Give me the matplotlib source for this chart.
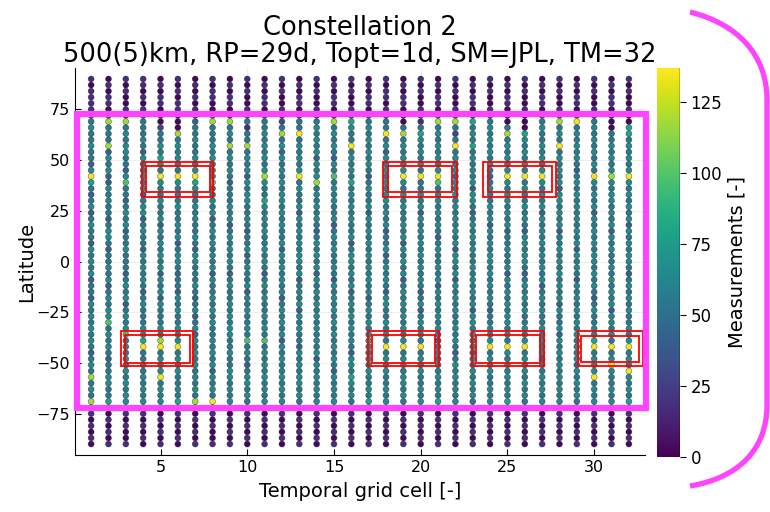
import numpy as np
import matplotlib
matplotlib.use("Agg")
import matplotlib.pyplot as plt
from matplotlib.patches import Rectangle, PathPatch
from matplotlib.path import Path

# ── Data ────────────────────────────────────────────────────────────────────
# binned measurement count for each digit code
LEVELS = [3, 18, 30, 42, 55, 66, 80, 98, 118, 135]
latitudes = np.arange(90, -91, -3)          # 61 rows, north to south
cells = np.arange(1, 33)                    # temporal grid cells
cell_codes = [
    "1011112454 4544359643 4534544354 5453443545 4545434548 4548210101 0",
    "0101102844 4835453354 5443455434 4545345455 7454543445 5446201010 1",
    "1010011845 4554435744 3454534454 4434545345 4574545454 5455210100 1",
    "1101012444 5435445453 4553454435 4545434544 4546944545 4545210101 0",
    "0101101024 4546549544 5445354545 4535453544 4548945459 4545201010 1",
    "1010110008 4545449544 4544545345 5434435454 4545945454 4546210101 0",
    "0101012344 5445459654 4545445435 5444543453 4535454545 4548201010 1",
    "1011002844 4545455744 5453454545 4535445454 5445454535 4549210100 1",
    "0101101845 4845454344 4545345454 5434544545 4554454455 4545201010 1",
    "1010012414 4845453545 5445434453 4544535454 4547454345 5454210101 0",
    "0101102445 4545458544 6545454454 5434545445 4547454545 4545201010 1",
    "1010011248 4535454545 5454544535 4545453454 5453545445 4545210101 0",
    "0101102449 4545459454 4535454545 5453454535 4544354545 5454201010 1",
    "1010012454 5453545845 4545434545 4535454545 4545453545 4545210101 0",
    "0101101845 4543547454 5445345454 4543545454 5454545435 4545201010 1",
    "1010012654 4945454645 4545445345 5454534545 4545435546 5454210101 0",
    "0101102454 5454543454 4535454545 4545453454 5456545454 4546201010 1",
    "1011012449 4535454545 5454534453 4545435544 5454945454 4545210101 0",
    "0101101048 4545459545 4544545354 5453454545 4545945545 5454201010 1",
    "1010012146 5454549445 4535454545 4545434534 5454945454 4545210101 0",
    "0101102845 4545459745 5454543454 4545354545 4543454545 4546201010 1",
    "1010012842 4945453545 4545454535 5453545454 4545434545 4545210101 0",
    "0101101645 4645454535 5434545454 4545454535 5454535454 5454201010 1",
    "1010012454 5454543454 4545354545 5454545434 4545945454 4545210101 0",
    "0101101048 4545459545 5454534454 4535454545 5454954545 4546201010 1",
    "1010010006 5454549454 4545435545 5434545454 4545945454 5454210101 0",
    "0101102454 4545459545 4535454545 4545345454 4545453545 4545201010 1",
    "1010012845 4945454535 5454534454 5454545354 4535454545 4545210101 0",
    "0101102945 4545434545 4545454535 4543545454 5454545354 5454201010 1",
    "1010012454 5454549545 4535454545 5454543454 4546945459 4545210101 0",
    "0101101004 4545458545 5454535454 4545454535 5454945954 4545201010 1",
    "1010010066 4545459545 4545354545 5434545454 4545945495 4546210101 0",
]
# highlighted regions: (cell_lo, cell_hi, lat_lo, lat_hi), outer and inner frame
boxes_outer = [(3.95, 8.05, 32.0, 49.2), (17.84, 22.1, 32.0, 49.2),
               (23.6, 27.8, 32.0, 49.2), (2.7, 6.9, -51.7, -34.3),
               (16.97, 21.08, -51.7, -34.3), (22.93, 27.1, -51.7, -34.3),
               (29.05, 32.83, -51.7, -34.3)]
boxes_inner = [(4.15, 7.85, 34.1, 47.0), (18.13, 21.83, 34.1, 47.0),
               (23.86, 27.56, 34.1, 47.0), (2.93, 6.69, -49.9, -36.1),
               (17.2, 20.85, -49.9, -36.1), (23.16, 26.87, -49.9, -36.1),
               (29.26, 32.6, -49.6, -36.6)]

counts = np.array([[LEVELS[int(ch)] for ch in code.replace(" ", "")]
                   for code in cell_codes])
X = np.repeat(cells, len(latitudes))
Y = np.tile(latitudes, len(cells))
C = counts.ravel()

# ── Figure ──────────────────────────────────────────────────────────────────
W, H = 770, 512
fig = plt.figure(figsize=(W / 100, H / 100), dpi=100)
ax = fig.add_axes([75 / W, 1 - 455 / H, 570 / W, 387 / H])
cax = fig.add_axes([657 / W, 1 - 457 / H, 23 / W, 389 / H])

sc = ax.scatter(X, Y, c=C, cmap="viridis", vmin=0, vmax=137, s=18,
                edgecolors=(0, 0, 0, 0.45), linewidths=0.5, zorder=3)

ax.set_xlim(0.07, 32.93)
ax.set_ylim(-95.4, 95.4)
ax.set_xticks([5, 10, 15, 20, 25, 30])
ax.set_yticks([-75, -50, -25, 0, 25, 50, 75])
ax.tick_params(direction="in", labelsize=11.5, length=4)
ax.grid(True, color="black", alpha=0.08, lw=0.6)
for side in ("top", "right"):
    ax.spines[side].set_visible(False)
ax.set_xlabel("Temporal grid cell [-]", fontsize=14, labelpad=5)
ax.set_ylabel("Latitude", fontsize=14, labelpad=0)
ax.set_title("Constellation 2\n500(5)km, RP=29d, Topt=1d, SM=JPL, TM=32",
             fontsize=18.5, pad=3, linespacing=1.05)

for bx in boxes_outer + boxes_inner:
    ax.add_patch(Rectangle((bx[0], bx[2]), bx[1] - bx[0], bx[3] - bx[2],
                           fill=False, edgecolor="red", lw=1.3, zorder=4,
                           clip_on=False))

cb = fig.colorbar(sc, cax=cax)
cb.outline.set_visible(False)
cax.axvline(1, color="black", lw=1.0)
cb.set_ticks([0, 25, 50, 75, 100, 125])
cax.tick_params(labelsize=12, length=4)
cb.set_label("Measurements [-]", fontsize=14, labelpad=4)

# magenta frame and bracket drawn in figure pixels
def fx(px):
    return px / W


def fy(py):
    return 1 - py / H


fig.patches.append(Rectangle((fx(76.5), fy(408)), fx(646) - fx(76.5),
                             fy(113.7) - fy(408), fill=False,
                             edgecolor="#ff44ff", lw=4.5,
                             transform=fig.transFigure, figure=fig))
verts = [(fx(690), fy(12)), (fx(738), fy(24)), (fx(767), fy(55)),
         (fx(767), fy(100)), (fx(767), fy(405)), (fx(767), fy(450)),
         (fx(738), fy(478)), (fx(690), fy(486))]
codes = [Path.MOVETO, Path.CURVE4, Path.CURVE4, Path.CURVE4, Path.LINETO,
         Path.CURVE4, Path.CURVE4, Path.CURVE4]
fig.patches.append(PathPatch(Path(verts, codes), fill=False,
                             edgecolor="#ff44ff", lw=3.8,
                             transform=fig.transFigure, figure=fig))

fig.savefig("out.png", dpi=100)
